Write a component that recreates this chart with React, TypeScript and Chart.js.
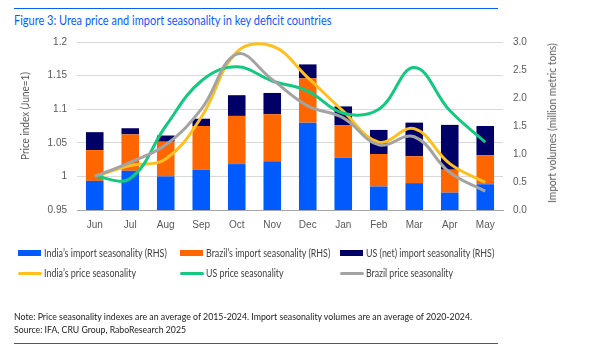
import React, { useEffect, useRef } from "react";
import { Chart, registerables } from "chart.js";

Chart.register(...registerables);

const months = ["Jun", "Jul", "Aug", "Sep", "Oct", "Nov", "Dec", "Jan", "Feb", "Mar", "Apr", "May"];

// Import volumes (million metric tons, RHS), stacked
const indiaImports = [0.52, 0.70, 0.60, 0.72, 0.82, 0.87, 1.56, 0.93, 0.42, 0.48, 0.31, 0.46];
const brazilImports = [0.55, 0.65, 0.62, 0.78, 0.86, 0.84, 0.79, 0.58, 0.58, 0.48, 0.41, 0.52];
const usImports = [0.32, 0.11, 0.11, 0.13, 0.37, 0.38, 0.25, 0.34, 0.43, 0.60, 0.80, 0.52];

// Price index (June = 1, LHS)
const indiaPrice = [1.0, 1.016, 1.026, 1.088, 1.185, 1.194, 1.147, 1.097, 1.051, 1.071, 1.019, 0.991];
const usPrice = [1.0, 0.997, 1.075, 1.142, 1.163, 1.142, 1.127, 1.094, 1.1, 1.162, 1.098, 1.051];
const brazilPrice = [1.0, 1.021, 1.047, 1.1, 1.182, 1.144, 1.105, 1.087, 1.047, 1.059, 1.006, 0.978];

const leftAxisRange = [0.95, 1.2, 0.05];
const rightAxisRange = [0, 3, 0.5];

const TEXT_FONT = "Lato";
const TICK_FONT = "'Liberation Sans', Arial, sans-serif";
const BLUE = "#0a5cff";
const C_INDIA_BAR = "#005bff";
const C_BRAZIL_BAR = "#ff6600";
const C_US_BAR = "#000066";
const C_INDIA_LINE = "#ffc01e";
const C_US_LINE = "#12c97f";
const C_BRAZIL_LINE = "#a3a3a3";

const legendItems = [
  { label: "India\u2019s import seasonality (RHS)", color: C_INDIA_BAR, type: "bar", x: 18, y: 253, w: 123 },
  { label: "Brazil\u2019s import seasonality (RHS)", color: C_BRAZIL_BAR, type: "bar", x: 180, y: 253, w: 124.5 },
  { label: "US (net) import seasonality (RHS)", color: C_US_BAR, type: "bar", x: 340, y: 253, w: 128.5 },
  { label: "India\u2019s price seasonality", color: C_INDIA_LINE, type: "line", x: 18, y: 273, w: 92 },
  { label: "US price seasonality", color: C_US_LINE, type: "line", x: 180, y: 273, w: 77.5 },
  { label: "Brazil price seasonality", color: C_BRAZIL_LINE, type: "line", x: 340, y: 273, w: 87 },
];

let measureCtx: CanvasRenderingContext2D | null = null;
function fitScale(text: string, size: number, weight: number, target: number) {
  if (typeof document === "undefined") return 1;
  if (!measureCtx) measureCtx = document.createElement("canvas").getContext("2d");
  if (!measureCtx) return 1;
  measureCtx.font = `${weight} ${size}px ${TEXT_FONT}`;
  const w = measureCtx.measureText(text).width;
  return w > 0 ? target / w : 1;
}

function FitText(props: {
  text: string; left: number; cy: number; width: number; size: number; color: string; weight?: number; rotate?: boolean;
}) {
  const { text, left, cy, width, size, color, weight = 400, rotate } = props;
  const s = fitScale(text, size, weight, width);
  const lh = Math.round(size * 1.3);
  const base: React.CSSProperties = {
    position: "absolute",
    fontFamily: TEXT_FONT,
    fontSize: size,
    fontWeight: weight,
    lineHeight: `${lh}px`,
    color,
    whiteSpace: "nowrap",
  };
  if (rotate) {
    return (
      <div style={{ ...base, left, top: cy, transform: `translate(-50%, -50%) rotate(-90deg) scaleX(${s})` }}>{text}</div>
    );
  }
  return (
    <div style={{ ...base, left, top: cy - lh / 2, transformOrigin: "left center", transform: `scaleX(${s})` }}>{text}</div>
  );
}

export default function App() {
  const ref = useRef<HTMLCanvasElement | null>(null);

  useEffect(() => {
    if (!ref.current) return;
    const lineDs = (label: string, data: number[], color: string, order: number) => ({
      type: "line" as const,
      label,
      data,
      borderColor: color,
      backgroundColor: color,
      borderWidth: 3,
      pointRadius: 0,
      tension: 0.4,
      fill: false,
      yAxisID: "y",
      order,
    });
    const barDs = (label: string, data: number[], color: string) => ({
      type: "bar" as const,
      label,
      data,
      backgroundColor: color,
      borderWidth: 0,
      yAxisID: "y1",
      order: 10,
      barPercentage: 0.99,
      categoryPercentage: 0.5,
    });
    const tickFont = { family: TICK_FONT, size: 10 };
    const chart = new Chart(ref.current, {
      type: "bar",
      data: {
        labels: months,
        datasets: [
          barDs("India's import seasonality (RHS)", indiaImports, C_INDIA_BAR),
          barDs("Brazil's import seasonality (RHS)", brazilImports, C_BRAZIL_BAR),
          barDs("US (net) import seasonality (RHS)", usImports, C_US_BAR),
          lineDs("India's price seasonality", indiaPrice, C_INDIA_LINE, 3),
          lineDs("US price seasonality", usPrice, C_US_LINE, 2),
          lineDs("Brazil price seasonality", brazilPrice, C_BRAZIL_LINE, 1),
        ] as any,
      },
      options: {
        animation: false,
        responsive: false,
        devicePixelRatio: 1,
        layout: { padding: { left: 0, top: 42, right: 8, bottom: 110 } },
        plugins: { legend: { display: false }, tooltip: { enabled: false } },
        scales: {
          x: {
            stacked: true,
            grid: { display: false, drawTicks: false },
            border: { display: true, color: "#a6a6a6", width: 1 },
            ticks: { color: "#595959", font: tickFont, padding: 9 },
            afterFit: (s: any) => { s.height = 39; },
          },
          y: {
            position: "left",
            min: leftAxisRange[0],
            max: leftAxisRange[1],
            ticks: {
              stepSize: leftAxisRange[2],
              color: "#595959",
              font: tickFont,
              padding: 10,
              callback: (v: any) => String(Number(Number(v).toFixed(2))),
            },
            grid: { color: "#d9d9d9", drawTicks: false },
            border: { display: false },
            afterFit: (s: any) => { s.width = 77; },
          },
          y1: {
            position: "right",
            stacked: true,
            min: rightAxisRange[0],
            max: rightAxisRange[1],
            ticks: {
              stepSize: rightAxisRange[2],
              color: "#595959",
              font: tickFont,
              padding: 10,
              callback: (v: any) => Number(v).toFixed(1),
            },
            grid: { display: false, drawTicks: false },
            border: { display: false },
            afterFit: (s: any) => { s.width = 80; },
          },
        },
      } as any,
    });
    return () => chart.destroy();
  }, []);

  return (
    <div style={{ position: "absolute", left: 0, top: 0, width: 591, height: 359, background: "#fff", overflow: "hidden" }}>
      <div style={{ position: "absolute", left: 14, top: 7.5, width: 484, height: 1, background: BLUE }} />
      <FitText text="Figure 3: Urea price and import seasonality in key deficit countries" left={14} cy={20.5} width={318} size={13} color={BLUE} />
      <canvas ref={ref} width={591} height={359} style={{ position: "absolute", left: 0, top: 0, width: 591, height: 359 }} />
      <FitText text="Price index (June=1)" left={25} cy={116} width={88} size={10.5} color="#595959" rotate />
      <FitText text="Import volumes (million metric tons)" left={552} cy={123} width={160} size={10.5} color="#595959" rotate />
      {legendItems.map((it) => (
        <div key={it.label}>
          <div
            style={{
              position: "absolute",
              left: it.x,
              top: it.type === "bar" ? it.y - 3 : it.y - 1.5,
              width: it.type === "bar" ? 23 : 24,
              height: it.type === "bar" ? 6 : 3,
              background: it.color,
              borderRadius: it.type === "bar" ? 0 : 1.5,
            }}
          />
          <FitText text={it.label} left={it.x + 26} cy={it.y} width={it.w} size={10.5} color="#404040" />
        </div>
      ))}
      <FitText
        text="Note: Price seasonality indexes are an average of 2015-2024. Import seasonality volumes are an average of 2020-2024."
        left={14} cy={316} width={459} size={10} color="#1a1a1a"
      />
      <FitText text="Source: IFA, CRU Group, RaboResearch 2025" left={14} cy={329.5} width={172} size={10} color="#1a1a1a" />
      <div style={{ position: "absolute", left: 14, top: 343, width: 484, height: 1, background: BLUE }} />
    </div>
  );
}
